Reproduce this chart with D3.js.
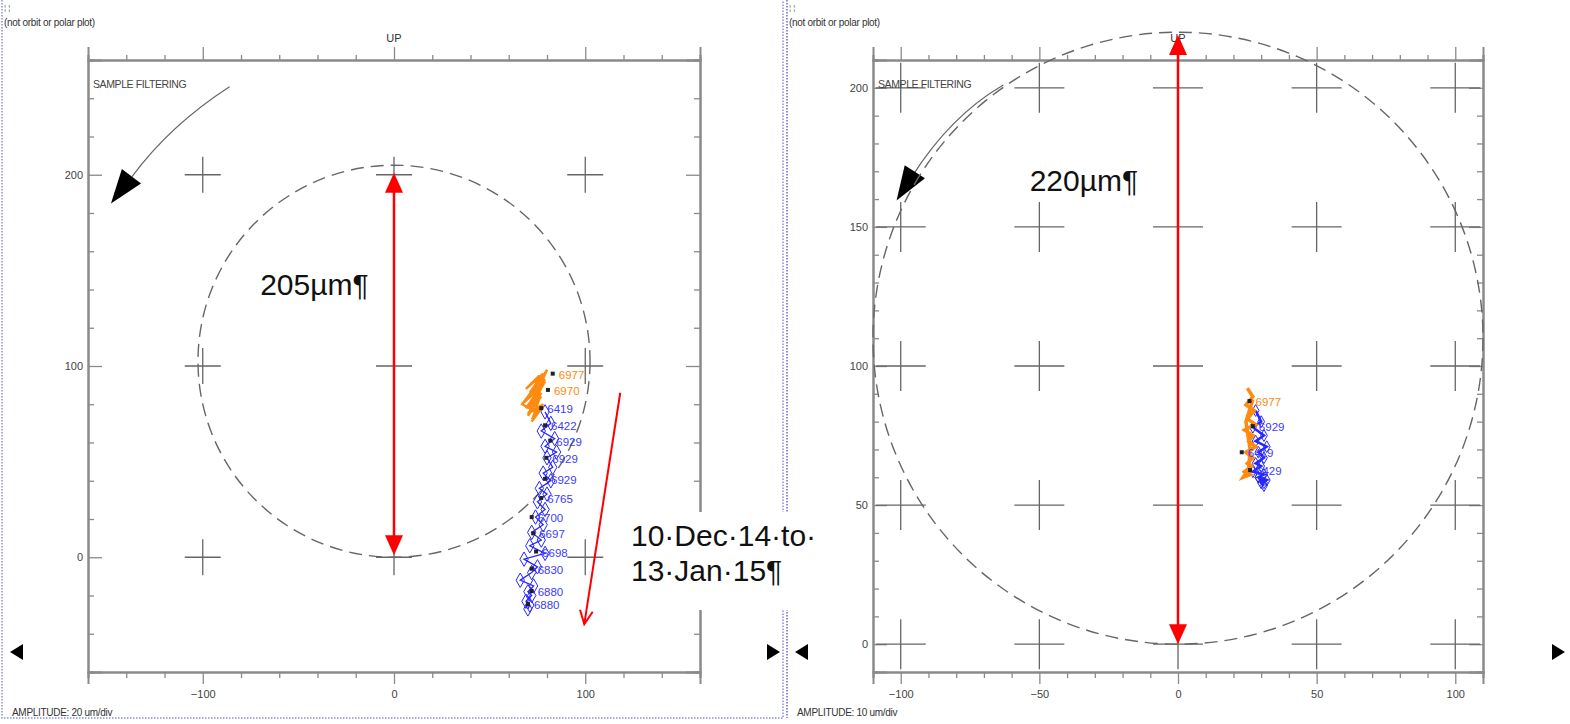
<!doctype html>
<html>
<head>
<meta charset="UTF-8">
<title>trend plot</title>
<script src="https://d3js.org/d3.v7.min.js"></script>
<style>
body{margin:0;background:#fff;}
svg{display:block;font-family:"Liberation Sans",Arial,sans-serif;}
</style>
</head>
<body>
<script>
// ---- left panel: 20 um/div ----
var leftXLabels = [-100, 0, 100];
var leftYLabels = [0, 100, 200];
var leftOrangeX = [72, 78, 70, 77, 69, 76, 68, 75, 70, 79, 71, 78, 69, 76, 72, 80, 73, 79, 71, 77, 70, 76, 72, 78, 74, 67, 73];
var leftOrangeY = [72, 80, 75, 84, 78, 88, 81, 90, 83, 93, 86, 96, 88, 95, 85, 98, 82, 92, 78, 86, 74, 83, 71, 79, 76, 80, 88];
var leftBlueX = [79, 82, 77, 84, 79, 85, 80, 83, 78, 82, 76, 80, 75, 79, 74, 78, 72, 77, 71, 79, 68, 75, 72, 66, 73, 70, 72, 69, 71, 70];
var leftBlueY = [76, 70, 66, 62, 58, 55, 52, 47, 44, 40, 36, 33, 29, 25, 21, 17, 13, 9, 6, 2, -1, -5, -8, -12, -15, -18, -20, -23, -25, -27];
var leftMarkX = [83, 80.5, 77, 79, 81.7, 79.6, 79, 77, 72, 72.8, 74.3, 72, 72, 70];
var leftMarkY = [96, 87.5, 78, 69, 61, 52, 41, 31, 21, 12.5, 3, -6, -17.7, -24.5];
var leftMarkText = ["6977", "6970", "6419", "6422", "6929", "6929", "6929", "6765", "6700", "6697", "6698", "6830", "6880", "6880"];
var leftMarkSeries = ["o", "o", "b", "b", "b", "b", "b", "b", "b", "b", "b", "b", "b", "b"];

// ---- right panel: 10 um/div ----
var rightXLabels = [-100, -50, 0, 50, 100];
var rightYLabels = [0, 50, 100, 150, 200];
var rightOrangeX = [25, 27, 24.5, 27.5, 25, 28, 24, 27, 25.5, 28, 24.5, 27, 25, 26.5, 24, 26, 23.5, 25.5, 26, 24.5, 27];
var rightOrangeY = [92, 89, 86, 84, 81, 79, 77, 75, 73, 71, 69, 67, 65, 64, 62, 61, 60, 63, 70, 80, 88];
var rightBlueX = [28, 30, 27, 31, 28, 32, 29, 31, 28, 30, 27, 31, 29, 32, 30, 31, 29, 31];
var rightBlueY = [84, 80, 78, 75, 73, 71, 69, 67, 65, 64, 62, 61, 60, 59, 58, 57, 60, 58];
var rightMarkX = [25.8, 27, 23, 26];
var rightMarkY = [87.4, 78.4, 69, 62.6];
var rightMarkText = ["6977", "6929", "6419", "6429"];
var rightMarkSeries = ["o", "b", "b", "b"];

var ORANGE = "#ff8a10", BLUE = "#2626ff", RED = "#ff0000", AXIS = "#8a8a8a";

var svg = d3.select("body").append("svg").attr("width", 1570).attr("height", 724);

// panel borders (blue dotted)
svg.append("path").attr("d", "M2,0V718H783V0").attr("fill", "none")
   .attr("stroke", "#8c8ce0").attr("stroke-width", 1.5).attr("stroke-dasharray", "1.5,1.5");
svg.append("path").attr("d", "M787,0V718").attr("fill", "none")
   .attr("stroke", "#8c8ce0").attr("stroke-width", 2).attr("stroke-dasharray", "1.5,1.5");

function arrowHead(g, tip, from, len, hw, fill) {
    var dx = tip[0] - from[0], dy = tip[1] - from[1];
    var d = Math.sqrt(dx * dx + dy * dy); dx /= d; dy /= d;
    var bx = tip[0] - dx * len, by = tip[1] - dy * len;
    g.append("path")
     .attr("d", "M" + tip + "L" + [bx - dy * hw, by + dx * hw] + "L" + [bx + dy * hw, by - dx * hw] + "Z")
     .attr("fill", fill);
}

function drawPanel(p) {
    var g = svg.append("g");
    var x = d3.scaleLinear().domain(p.xDom).range([p.left, p.right]);
    var y = d3.scaleLinear().domain(p.yDom).range([672, 60]);
    var xMinor = d3.range(p.xDom[0], p.xDom[1] + 0.1, p.minor).filter(function(v){ return v % p.major != 0; });
    var yMinor = d3.range(Math.ceil(p.yDom[0] / p.minor) * p.minor, p.yDom[1] + 0.1, p.minor).filter(function(v){ return v % p.major != 0; });
    var xMajor = d3.range(Math.ceil(p.xDom[0] / p.major) * p.major, p.xDom[1] + 0.1, p.major);
    var yMajor = d3.range(Math.ceil(p.yDom[0] / p.major) * p.major, p.yDom[1] + 0.1, p.major);

    function ax(axis, tr, vals, size) {
        var a = g.append("g").attr("transform", tr)
            .call(axis.tickValues(vals).tickSize(size).tickFormat(""));
        a.select(".domain").attr("stroke", AXIS).attr("stroke-width", 2);
        a.selectAll(".tick line").attr("stroke", AXIS).attr("stroke-width", 1.3);
    }
    ax(d3.axisTop(x), "translate(0,60)", xMinor, 5);
    ax(d3.axisTop(x), "translate(0,60)", xMajor, 13);
    ax(d3.axisBottom(x), "translate(0,672)", xMinor, 6);
    ax(d3.axisBottom(x), "translate(0,672)", xMajor, 12);
    ax(d3.axisRight(y), "translate(" + p.left + ",0)", yMinor, 6);
    ax(d3.axisRight(y), "translate(" + p.left + ",0)", yMajor, 14);
    ax(d3.axisLeft(y), "translate(" + p.right + ",0)", yMinor, 6);
    ax(d3.axisLeft(y), "translate(" + p.right + ",0)", yMajor, 14);

    // tick labels
    var lb = g.append("g").attr("transform", "translate(0,672)")
        .call(d3.axisBottom(x).tickValues(p.xLabels).tickSize(0).tickPadding(18));
    lb.select(".domain").remove();
    lb.selectAll("text").attr("font-size", 11).attr("fill", "#444").attr("font-family", "Liberation Sans");
    var ll = g.append("g").attr("transform", "translate(" + (p.left - 3) + ",0)")
        .call(d3.axisLeft(y).tickValues(p.yLabels).tickSize(0).tickPadding(2));
    ll.select(".domain").remove();
    ll.selectAll("text").attr("font-size", 11).attr("fill", "#444").attr("font-family", "Liberation Sans");

    // crosshair grid
    var cross = [];
    xMajor.forEach(function(a){ yMajor.forEach(function(b){ cross.push([a, b]); }); });
    g.selectAll(".cross").data(cross).enter().append("path")
     .attr("d", function(d){
        var cx = x(d[0]), cy = y(d[1]), s = p.cross;
        return "M" + (cx - s) + "," + cy + "H" + (cx + s) + "M" + cx + "," + (cy - s) + "V" + (cy + s);
     })
     .attr("stroke", "#666").attr("stroke-width", 1.3);

    // texts
    g.append("text").attr("x", p.border + 2).attr("y", 10).attr("font-size", 8).attr("fill", "#666").text("¦ ¦");
    g.append("text").attr("x", p.border + 2).attr("y", 26).attr("font-size", 10).attr("fill", "#333")
     .attr("letter-spacing", -0.3).text("(not orbit or polar plot)");
    g.append("text").attr("x", x(0)).attr("y", 42).attr("text-anchor", "middle").attr("font-size", 11)
     .attr("fill", "#333").text("UP");
    g.append("text").attr("x", p.left + 5).attr("y", 88).attr("font-size", 10.5).attr("fill", "#444")
     .attr("letter-spacing", -0.4).text("SAMPLE FILTERING");
    g.append("text").attr("x", p.border + 10).attr("y", 716).attr("font-size", 10).attr("fill", "#333")
     .attr("letter-spacing", -0.3).text(p.amp);
    g.append("path").attr("d", "M" + (p.border + 8) + ",652l13,-8v16z").attr("fill", "#000");
    g.append("path").attr("d", "M" + (p.border + 778) + ",652l-13,-8v16z").attr("fill", "#000");

    // sample filtering arrow
    var f = p.filt.map(function(d){ return [x(d[0]), y(d[1])]; });
    g.append("path").attr("d", "M" + f[0] + "Q" + f[1] + " " + f[2]).attr("fill", "none")
     .attr("stroke", "#666").attr("stroke-width", 1.2);
    arrowHead(g, f[3], f[1], 34, 12, "#000");

    // dashed circle
    g.append("ellipse").attr("cx", x(0)).attr("cy", y(p.circ))
     .attr("rx", x(p.circ) - x(0)).attr("ry", y(0) - y(p.circ))
     .attr("fill", "none").attr("stroke", "#666").attr("stroke-width", 1.4).attr("stroke-dasharray", "13,7");

    // red double arrow
    var y0 = y(p.red[0]), y1 = y(p.red[1]);
    g.append("line").attr("x1", x(0)).attr("x2", x(0)).attr("y1", y0 - 10).attr("y2", y1 + 10)
     .attr("stroke", RED).attr("stroke-width", 2.5);
    arrowHead(g, [x(0), y0], [x(0), y1], 20, 9, RED);
    arrowHead(g, [x(0), y1], [x(0), y0], 20, 9, RED);
    g.append("text").attr("x", x(p.redLabel[0])).attr("y", y(p.redLabel[1])).attr("font-size", 30)
     .attr("fill", "#111").text(p.redText);

    // traces
    var line = d3.line().x(function(d){ return x(d[0]); }).y(function(d){ return y(d[1]); });
    var orange = d3.zip(p.ox, p.oy), blue = d3.zip(p.bx, p.by);
    g.append("path").attr("d", line(blue)).attr("fill", "none").attr("stroke", BLUE).attr("stroke-width", p.bw);
    g.selectAll(".dia").data(blue).enter().append("path")
     .attr("transform", function(d){ return "translate(" + x(d[0]) + "," + y(d[1]) + ")"; })
     .attr("d", d3.symbol(d3.symbolDiamond).size(p.dia))
     .attr("fill", "none").attr("stroke", BLUE).attr("stroke-width", 1);
    g.append("path").attr("d", line(orange)).attr("fill", "none").attr("stroke", ORANGE).attr("stroke-width", p.ow);

    var marks = d3.zip(p.mx, p.my, p.mt, p.ms);
    g.selectAll(".mk").data(marks).enter().append("rect")
     .attr("x", function(d){ return x(d[0]) - 2; }).attr("y", function(d){ return y(d[1]) - 2; })
     .attr("width", 4).attr("height", 4).attr("fill", "#222");
    g.selectAll(".ml").data(marks).enter().append("text")
     .attr("x", function(d){ return x(d[0]) + 6; }).attr("y", function(d){ return y(d[1]) + 5; })
     .attr("font-size", 11.5).attr("fill", function(d){ return d[3] == "o" ? ORANGE : "#3b3bff"; })
     .text(function(d){ return d[2]; });
    return {x: x, y: y, g: g};
}

var L = drawPanel({
    left: 88, right: 700, border: 2, xDom: [-160, 160], yDom: [-60, 260], minor: 20, major: 100, cross: 18,
    xLabels: leftXLabels, yLabels: leftYLabels, amp: "AMPLITUDE: 20 um/div",
    filt: [[-86, 246], [-117, 226], [-137, 199], [-148, 185]],
    circ: 102.5, red: [1, 201], redLabel: [-70, 137], redText: "205µm¶",
    ox: leftOrangeX, oy: leftOrangeY, bx: leftBlueX, by: leftBlueY, dia: 60, ow: 2.4, bw: 1.3,
    mx: leftMarkX, my: leftMarkY, mt: leftMarkText, ms: leftMarkSeries
});

var R = drawPanel({
    left: 873, right: 1483, border: 787, xDom: [-110, 110], yDom: [-10, 210], minor: 10, major: 50, cross: 25,
    xLabels: rightXLabels, yLabels: rightYLabels, amp: "AMPLITUDE: 10 um/div",
    filt: [[-63, 201], [-82, 190], [-96, 168], [-101.5, 159.5]],
    circ: 110, red: [0, 219], redLabel: [-53.5, 163], redText: "220µm¶",
    ox: rightOrangeX, oy: rightOrangeY, bx: rightBlueX, by: rightBlueY, dia: 40, ow: 3.5, bw: 2.5,
    mx: rightMarkX, my: rightMarkY, mt: rightMarkText, ms: rightMarkSeries
});

// date range annotation on left panel
var trend = [[118.3, 86], [99.5, -35]].map(function(d){ return [L.x(d[0]), L.y(d[1])]; });
L.g.append("line").attr("x1", trend[0][0]).attr("y1", trend[0][1]).attr("x2", trend[1][0]).attr("y2", trend[1][1])
   .attr("stroke", RED).attr("stroke-width", 2);
(function(){
    var dx = trend[1][0] - trend[0][0], dy = trend[1][1] - trend[0][1], a = Math.atan2(dy, dx);
    var pts = [a + 2.7, a - 2.7].map(function(t){ return [trend[1][0] + 15 * Math.cos(t), trend[1][1] + 15 * Math.sin(t)]; });
    L.g.append("path").attr("d", "M" + pts[0] + "L" + trend[1] + "L" + pts[1]).attr("fill", "none")
       .attr("stroke", RED).attr("stroke-width", 2);
})();
svg.append("rect").attr("x", 625).attr("y", 512).attr("width", 210).attr("height", 98).attr("fill", "#fff");
svg.append("text").attr("x", 631).attr("y", 546).attr("font-size", 30).attr("fill", "#111").text("10·Dec·14·to·");
svg.append("text").attr("x", 631).attr("y", 581).attr("font-size", 30).attr("fill", "#111").text("13·Jan·15¶");
</script>
</body>
</html>
